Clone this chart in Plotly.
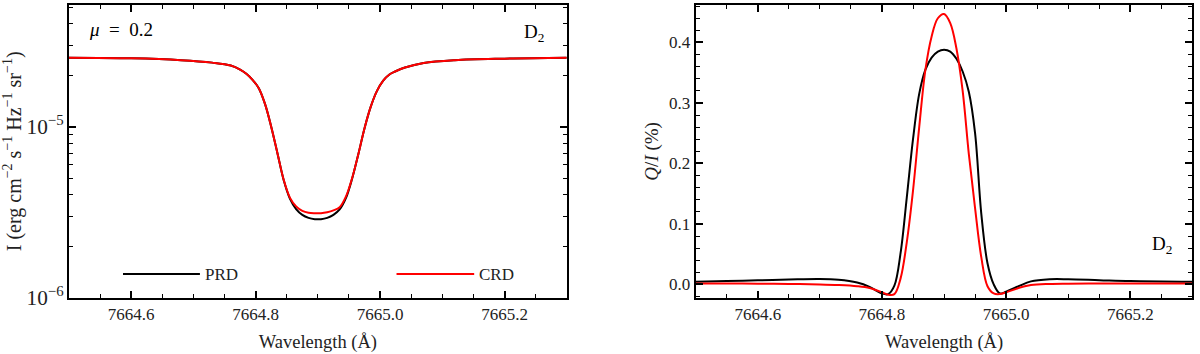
import plotly.graph_objects as go
from plotly.subplots import make_subplots

# left panel: intensity profile (units of 1e-5 erg cm^-2 s^-1 Hz^-1 sr^-1)
wl_int = [7664.50, 7664.60, 7664.68, 7664.73, 7664.76, 7664.775, 7664.785, 7664.795,
          7664.805, 7664.815, 7664.825, 7664.835, 7664.845, 7664.855, 7664.865, 7664.875,
          7664.885, 7664.895, 7664.905, 7664.915, 7664.925, 7664.935, 7664.945, 7664.955,
          7664.965, 7664.975, 7664.985, 7664.995, 7665.005, 7665.015, 7665.025, 7665.04,
          7665.07, 7665.12, 7665.20, 7665.30]
int_crd = [2.53, 2.51, 2.45, 2.37, 2.28, 2.16, 2.04, 1.88,
           1.68, 1.36, 1.00, 0.700, 0.490, 0.385, 0.342, 0.322,
           0.314, 0.312, 0.312, 0.316, 0.324, 0.338, 0.390, 0.500,
           0.690, 0.980, 1.31, 1.62, 1.86, 2.02, 2.11, 2.22,
           2.36, 2.45, 2.50, 2.53]
int_prd = [2.53, 2.51, 2.45, 2.37, 2.28, 2.16, 2.04, 1.88,
           1.68, 1.36, 1.00, 0.700, 0.488, 0.380, 0.330, 0.305,
           0.293, 0.288, 0.288, 0.293, 0.305, 0.328, 0.382, 0.496,
           0.690, 0.980, 1.31, 1.62, 1.86, 2.02, 2.11, 2.22,
           2.36, 2.45, 2.50, 2.53]

# right panel: Q/I (%)
wl_pol = [7664.50, 7664.55, 7664.60, 7664.65, 7664.70, 7664.73, 7664.76, 7664.78,
          7664.80, 7664.81, 7664.82, 7664.83, 7664.84, 7664.85, 7664.86, 7664.87,
          7664.88, 7664.89, 7664.90, 7664.91, 7664.92, 7664.93, 7664.94, 7664.95,
          7664.96, 7664.97, 7664.98, 7664.99, 7665.00, 7665.02, 7665.04, 7665.07,
          7665.10, 7665.15, 7665.20, 7665.30]
qi_prd = [0.0045, 0.0055, 0.0068, 0.0080, 0.0088, 0.0075, 0.0030, -0.004,
          -0.015, -0.016, -0.002, 0.052, 0.144, 0.240, 0.315, 0.355,
          0.375, 0.385, 0.388, 0.385, 0.373, 0.352, 0.318, 0.250,
          0.117, 0.035, 0.000, -0.015, -0.012, -0.003, 0.005, 0.0085,
          0.0085, 0.007, 0.0055, 0.0043]
qi_crd = [0.0017, 0.0015, 0.0012, 0.0008, 0.000, -0.001, -0.003, -0.006,
          -0.013, -0.017, -0.016, 0.010, 0.070, 0.155, 0.260, 0.355,
          0.410, 0.440, 0.447, 0.432, 0.390, 0.320, 0.215, 0.126,
          0.045, -0.003, -0.015, -0.016, -0.013, -0.006, -0.001, 0.0008,
          0.0012, 0.0015, 0.0016, 0.0017]

FONT = "Liberation Serif"
TXT = "#222"

fig = make_subplots(rows=1, cols=2)

series = [
    (wl_int, [v * 1e-5 for v in int_prd], "black", "PRD", 1),
    (wl_int, [v * 1e-5 for v in int_crd], "#ff0000", "CRD", 1),
    (wl_pol, qi_prd, "black", "PRD", 2),
    (wl_pol, qi_crd, "#ff0000", "CRD", 2),
]
for xs, ys, color, name, col in series:
    fig.add_trace(go.Scatter(x=xs, y=ys, mode="lines", name=name, showlegend=False,
                             line=dict(color=color, width=2, shape="spline", smoothing=1.0)),
                  row=1, col=col)

axis_style = dict(showline=True, linecolor="black", linewidth=2, mirror="allticks",
                  ticks="inside", ticklen=7, tickwidth=1.5, tickcolor="black",
                  showgrid=False, zeroline=False, automargin=False,
                  tickfont=dict(family=FONT, size=17, color=TXT))

xcommon = dict(range=[7664.5, 7665.3], dtick=0.2, tick0=7664.6, tickformat=".1f",
               minor=dict(ticks="inside", ticklen=4, tickwidth=1, dtick=0.05, tickcolor="black"),
               title=dict(text="Wavelength (Å)", standoff=12, font=dict(family=FONT, size=18.5, color=TXT)),
               **axis_style)

fig.update_xaxes(domain=[0.0575, 0.4723], row=1, col=1, **xcommon)
fig.update_xaxes(domain=[0.5798, 0.9936], row=1, col=2, **xcommon)

fig.update_yaxes(type="log", range=[-6, -4.288], dtick=1, exponentformat="power",
                 minor=dict(ticks="inside", ticklen=4, tickwidth=1, dtick="D1", tickcolor="black"),
                 domain=[0.159, 0.986],
                 title=dict(text="I (erg cm<sup>−2</sup> s<sup>−1</sup> Hz<sup>−1</sup> sr<sup>−1</sup>)",
                            standoff=0, font=dict(family=FONT, size=20, color=TXT)),
                 row=1, col=1, **axis_style)
fig.update_yaxes(range=[-0.022, 0.462], dtick=0.1, tick0=0, tickformat=".1f",
                 minor=dict(ticks="inside", ticklen=4, tickwidth=1, dtick=0.02, tickcolor="black"),
                 domain=[0.159, 0.986],
                 title=dict(text="<i>Q</i>/<i>I</i> (%)", standoff=5, font=dict(family=FONT, size=19, color=TXT)),
                 row=1, col=2, **axis_style)

# legend drawn inside the left panel
legend_items = [("PRD", "black", 0.1085, 0.263), ("CRD", "#ff0000", 0.658, 0.814)]
for label, color, x0, x1 in legend_items:
    fig.add_shape(type="line", xref="x domain", yref="y domain", x0=x0, x1=x1, y0=0.081, y1=0.081,
                  line=dict(color=color, width=2))
    fig.add_annotation(xref="x domain", yref="y domain", x=x1 + 0.006, y=0.081, text=label,
                       showarrow=False, xanchor="left", yanchor="middle",
                       font=dict(family=FONT, size=17, color=TXT))

fig.add_annotation(xref="x domain", yref="y domain", x=0.036, y=0.915,
                   text="<i>μ</i>\u2002=\u20020.2", showarrow=False, xanchor="left", yanchor="middle",
                   font=dict(family=FONT, size=19, color="black"))
fig.add_annotation(xref="x domain", yref="y domain", x=0.958, y=0.905,
                   text="D<sub>2</sub>", showarrow=False, xanchor="right", yanchor="middle",
                   font=dict(family=FONT, size=19, color="black"))
fig.add_annotation(xref="x2 domain", yref="y2 domain", x=0.963, y=0.18,
                   text="D<sub>2</sub>", showarrow=False, xanchor="right", yanchor="middle",
                   font=dict(family=FONT, size=19, color="black"))

fig.update_layout(width=1200, height=354, margin=dict(l=0, r=0, t=0, b=0),
                  plot_bgcolor="white", paper_bgcolor="white",
                  font=dict(family=FONT, size=17, color=TXT), showlegend=False)

# drop the default page margin so the figure sits at the window origin
fig.write_html("out.html", config={"displayModeBar": False},
               post_script="document.body.style.margin='0';")
